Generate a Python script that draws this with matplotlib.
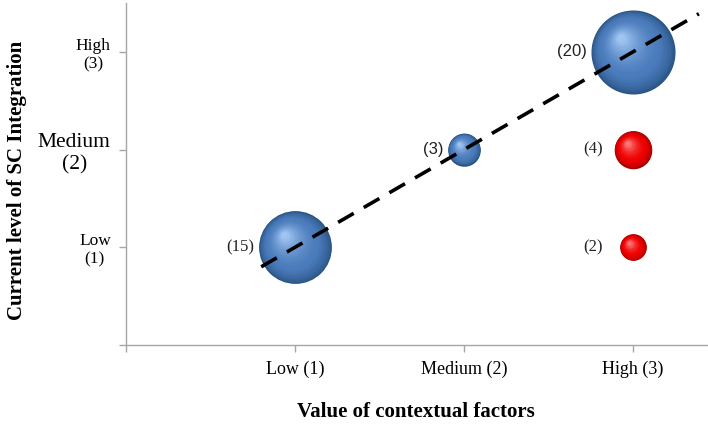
import numpy as np
import matplotlib.pyplot as plt
from matplotlib.colors import to_rgb
from matplotlib.transforms import ScaledTranslation

# bubble data: x = value of contextual factors, y = SC integration level, n = count
blue_x = [1, 2, 3]
blue_y = [1, 2, 3]
blue_n = [15, 3, 20]
red_x = [3, 3]
red_y = [2, 1]
red_n = [4, 2]

x_ticks = [1, 2, 3]
x_labels = ['Low (1)', 'Medium (2)', 'High (3)']
y_ticks = [1, 2, 3]
y_labels = ['Low\n(1)', 'Medium\n(2)', 'High\n(3)']

serif = 'Liberation Serif'
sans = 'Liberation Sans'

fig = plt.figure(figsize=(7.08, 4.28), dpi=100)
ax = fig.add_axes([126 / 708, 83 / 428, 591.5 / 708, 342 / 428])
ax.set_xlim(0, 3.5)
ax.set_ylim(0, 3.5)

SCALE = 183.0  # marker area (pt^2) per unit count


def mix(c1, c2, t):
    a, b = np.array(to_rgb(c1)), np.array(to_rgb(c2))
    return tuple(a + (b - a) * t)


def sphere(x, y, n, edge, mid, hi, layers=45):
    s = SCALE * n
    r = np.sqrt(s) / 2  # radius in points
    for k in range(layers):
        f = k / layers
        rf = 1 - 0.93 * f
        dx = -0.30 * r * f / 72
        dy = 0.34 * r * f / 72
        if f < 0.3:
            col = mix(edge, mid, (f / 0.3) ** 0.6)
        else:
            col = mix(mid, hi, ((f - 0.3) / 0.7) ** 1.6)
        tr = ax.transData + ScaledTranslation(dx, dy, fig.dpi_scale_trans)
        ax.scatter([x], [y], s=s * rf ** 2, color=col, linewidths=0,
                   transform=tr, zorder=2 + k * 0.001, clip_on=False)
    return r


for x, y, n in zip(blue_x, blue_y, blue_n):
    r = sphere(x, y, n, '#27507f', '#4a7bbb', '#a3c8f5')
    fam = sans if n in (20, 3) else serif
    ax.annotate(f'({n})', (x, y), xytext=(-(r + 3), 0), textcoords='offset points',
                ha='right', va='center', fontsize=12, family=fam, color='#222222')

for x, y, n in zip(red_x, red_y, red_n):
    r = sphere(x, y, n, '#a00000', '#ee0000', '#ff8080')
    ax.annotate(f'({n})', (x, y), xytext=(-22, 0), textcoords='offset points',
                ha='right', va='center', fontsize=12, family=serif, color='#222222')

# linear trend through the blue bubbles
coef = np.polyfit(blue_x, blue_y, 1)
tx = np.array([0.8, 3.39])
ax.plot(tx, np.polyval(coef, tx), color='black', lw=2.6, ls=(0, (5, 3.2)),
        dash_capstyle='butt', zorder=5)

for side in ('top', 'right'):
    ax.spines[side].set_visible(False)
for side in ('left', 'bottom'):
    ax.spines[side].set_color('#a6a6a6')
    ax.spines[side].set_linewidth(1.0)

ax.set_xticks([0] + x_ticks)
ax.set_xticklabels([''] + x_labels, fontsize=13, family=serif)
ax.set_yticks([0] + y_ticks)
ax.set_yticklabels([''] + y_labels, fontsize=12.5, family=serif,
                   multialignment='center')
ax.get_yticklabels()[2].set_fontsize(15.5)
ax.tick_params(axis='both', direction='out', length=5, color='#a6a6a6', width=1.0)
ax.tick_params(axis='x', pad=6)
ax.tick_params(axis='y', pad=6)

fig.text(416 / 708, 1 - 412 / 428, 'Value of contextual factors', ha='center',
         va='center', fontsize=15, fontweight='bold', family=serif)
fig.text(17 / 708, 1 - 180 / 428, 'Current level of SC Integration', rotation=90,
         ha='center', va='center', fontsize=15, fontweight='bold', family=serif)

fig.savefig('out.png', dpi=100)
